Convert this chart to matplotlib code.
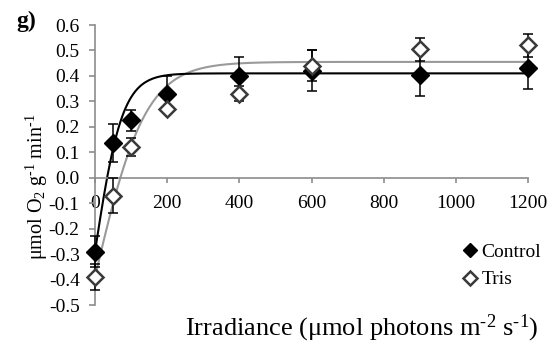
#!/usr/bin/env python3
"""
Photosynthesis-irradiance curve, panel g) Control vs Tris.
"""

import matplotlib
matplotlib.use('Agg')
import matplotlib.pyplot as plt
import numpy as np

# Measured rates (umol O2 g-1 min-1)
irradiance = [0, 50, 100, 200, 400, 600, 900, 1200]
control = [-0.29, 0.135, 0.225, 0.33, 0.40, 0.42, 0.405, 0.43]
control_err = [0.06, 0.075, 0.04, 0.07, 0.075, 0.08, 0.085, 0.08]
tris = [-0.39, -0.07, 0.12, 0.27, 0.33, 0.44, 0.505, 0.52]
tris_err = [0.05, 0.07, 0.035, 0.0, 0.03, 0.06, 0.045, 0.045]

# Fitted P-I model parameters (tanh): P = Pm * tanh(alpha * I / Pm) + R
control_fit = dict(pm=0.70, alpha=0.0092, r=-0.29)
tris_fit = dict(pm=0.845, alpha=0.0060, r=-0.39)

xticks = [0, 200, 400, 600, 800, 1000, 1200]
yticks = [-0.5, -0.4, -0.3, -0.2, -0.1, 0.0, 0.1, 0.2, 0.3, 0.4, 0.5, 0.6]

plt.rcParams['font.family'] = ['Liberation Serif', 'DejaVu Serif']
plt.rcParams['axes.unicode_minus'] = False
plt.rcParams['mathtext.fontset'] = 'custom'
plt.rcParams['mathtext.rm'] = 'Liberation Serif'
plt.rcParams['mathtext.it'] = 'Liberation Serif:italic'
plt.rcParams['mathtext.bf'] = 'Liberation Serif:bold'

W, H = 549, 348
fig = plt.figure(figsize=(W / 100, H / 100), dpi=100)
ax = fig.add_axes([95 / W, 1 - 305 / H, (528 - 95) / W, (305 - 25) / H])


def tanh_model(i, pm, alpha, r):
    return pm * np.tanh(alpha * i / pm) + r


# Fit curves
i_fit = np.linspace(0, 1200, 241)
ax.plot(i_fit, tanh_model(i_fit, **tris_fit), color='#9a9a9a', lw=1.5, zorder=2)
ax.plot(i_fit, tanh_model(i_fit, **control_fit), color='black', lw=1.5, zorder=2)

# Data with error bars
for vals, errs in [(control, control_err), (tris, tris_err)]:
    eb = ax.errorbar(irradiance, vals, yerr=errs, fmt='none', ecolor='black',
                     elinewidth=1.1, capsize=3.5, capthick=1.1, zorder=3)
    for art in eb.lines[1] + eb.lines[2]:
        art.set_clip_on(False)
ax.plot(irradiance, control, 'D', color='black', ms=9, ls='none',
        label='Control', zorder=4, clip_on=False)
ax.plot(irradiance, tris, 'D', mfc='white', mec='#3a3a3a', mew=1.8, ms=8.5,
        ls='none', label='Tris', zorder=5, clip_on=False)

ax.set_xlim(0, 1200)
ax.set_ylim(-0.5, 0.6)
ax.set_xticks(xticks)
ax.set_yticks(yticks)
ax.set_yticklabels([f"{v:.1f}" for v in yticks])

for s in ['top', 'right']:
    ax.spines[s].set_visible(False)
ax.spines['bottom'].set_position(('data', 0))
for s in ['left', 'bottom']:
    ax.spines[s].set_color('#8c8c8c')
    ax.spines[s].set_linewidth(1.2)

ax.tick_params(axis='x', direction='out', length=3.5, width=1.2, color='#8c8c8c',
               labelsize=14, pad=9)
ax.tick_params(axis='y', direction='out', length=4.5, width=1.2, color='#8c8c8c',
               labelsize=14, pad=6.5)

# Labels (U+2010 hyphen in superscripts so mathtext keeps a short dash)
fig.text(37 / W, 1 - 187 / H,
         'μmol O$_\\mathregular{2}$ g$^\\mathregular{\u20101}$ min$^\\mathregular{\u20101}$',
         rotation=90, ha='center', va='center', fontsize=14.5)
fig.text(362 / W, 1 - 328 / H,
         'Irradiance (μmol photons m$^\\mathregular{\u20102}$ s$^\\mathregular{\u20101}$)',
         ha='center', va='center', fontsize=19)
fig.text(26 / W, 1 - 21 / H, 'g)', ha='center', va='center', fontsize=17,
         fontweight='bold')

fig.legend(loc='center left', bbox_to_anchor=(462 / W, 1 - 266 / H),
           frameon=False, fontsize=14, handlelength=0.8, handletextpad=0.2,
           labelspacing=0.5, borderpad=0, borderaxespad=0, markerscale=0.8)

fig.savefig('out.png', dpi=100)
